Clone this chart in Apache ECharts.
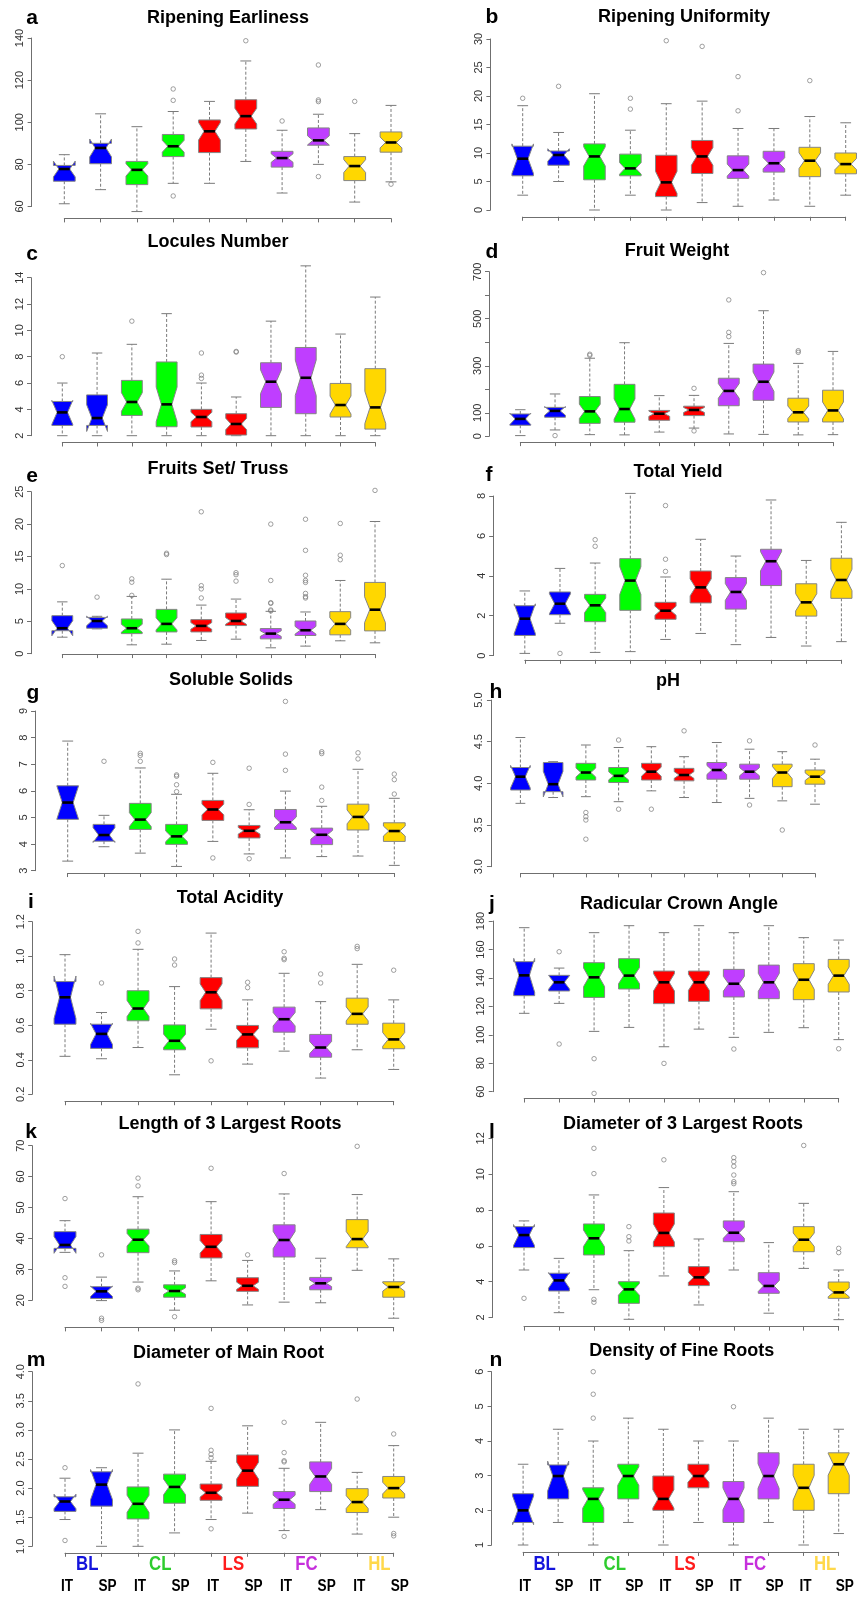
<!DOCTYPE html>
<html>
<head>
<meta charset="utf-8">
<script src="https://cdn.jsdelivr.net/npm/echarts@6/dist/echarts.min.js"></script>
<style>
  html, body { margin: 0; padding: 0; background: #ffffff; }
  #chart { width: 857px; height: 1599px; }
</style>
</head>
<body>
<div id="chart"></div>
<script>
// ---- categories -------------------------------------------------------
const groupNames = ['BL', 'CL', 'LS', 'FC', 'HL'];
const originNames = ['IT', 'SP'];
// accessions per box, used for the median notch (1.58 * IQR / sqrt(n))
const sampleSizes = [10, 13, 35, 35, 35, 35, 35, 35, 35, 35];

const panelLetters = ['a', 'b', 'c', 'd', 'e', 'f', 'g', 'h', 'i', 'j', 'k', 'l', 'm', 'n'];
const panelTitles = [
  'Ripening Earliness', 'Ripening Uniformity', 'Locules Number', 'Fruit Weight',
  'Fruits Set/ Truss', 'Total Yield', 'Soluble Solids', 'pH', 'Total Acidity',
  'Radicular Crown Angle', 'Length of 3 Largest Roots', 'Diameter of 3 Largest Roots',
  'Diameter of Main Root', 'Density of Fine Roots'
];

// ---- y tick labels ----------------------------------------------------
const tickFirst = [60, 0, 2, 0, 0, 0, 3, 3.0, 0.2, 60, 20, 2, 1.0, 1];
const tickLast = [140, 30, 14, 700, 25, 8, 9, 5.0, 1.2, 180, 70, 12, 4.0, 6];
const tickStep = [20, 5, 2, 100, 5, 2, 1, 0.5, 0.2, 20, 10, 2, 0.5, 1];
const tickDecimals = [0, 0, 0, 0, 0, 0, 0, 1, 1, 0, 0, 0, 1, 0];
const unlabelledTicks = [[], [], [], [200, 400, 600], [], [], [], [], [], [], [], [], [], []];
// panels drawn with a fixed value range instead of the data range
const fixedLimits = [null, null, null, null, null, null, null, [3, 5], [0.2, 1.2], [60, 180], null, null, null, null];

// ---- box statistics: [lower whisker, Q1, median, Q3, upper whisker] ----
const ripeningEarliness = [
  [61.3, 72.0, 77.8, 79.5, 84.6], [68.0, 80.3, 87.8, 90.0, 104.0],
  [57.6, 70.4, 77.4, 81.4, 97.9], [71.0, 83.7, 88.6, 94.2, 105.1],
  [71.0, 85.6, 95.7, 101.1, 109.9], [81.4, 96.8, 102.9, 110.7, 129.1],
  [66.4, 78.7, 83.0, 86.2, 96.2], [80.0, 89.1, 91.4, 97.3, 103.8],
  [62.1, 72.3, 79.2, 83.7, 94.6], [71.7, 85.8, 90.4, 95.4, 108.0]
];
const ripeningEarlinessOut = [[], [], [], [115.8, 110.4, 65.0], [], [138.7], [100.6], [127.2, 110.6, 109.8, 74.2], [109.9], [70.6]];

const ripeningUniformity = [
  [2.6, 6.0, 9.0, 11.2, 18.3], [5.0, 7.85, 9.65, 10.35, 13.6],
  [0.0, 5.3, 9.4, 11.6, 20.4], [2.6, 6.0, 7.3, 9.8, 14.0],
  [0.0, 2.35, 4.85, 9.6, 18.65], [1.3, 6.4, 9.4, 12.2, 19.1],
  [0.65, 5.55, 7.0, 9.5, 14.3], [1.75, 6.65, 8.2, 10.3, 14.3],
  [0.65, 5.85, 8.65, 11.0, 16.4], [2.6, 6.35, 8.05, 10.0, 15.3]
];
const ripeningUniformityOut = [[19.6], [21.7], [], [19.6, 17.7], [29.7], [28.7], [23.4, 17.4], [], [22.7], []];

const loculesNumber = [
  [2, 2.78, 3.77, 4.6, 6.0], [2, 2.78, 3.34, 5.1, 8.28],
  [2, 3.54, 4.56, 6.2, 8.94], [2, 2.68, 4.38, 7.6, 11.27],
  [2, 2.66, 3.42, 4.0, 6.0], [2, 2.05, 2.89, 3.67, 4.94],
  [2, 4.15, 6.1, 7.54, 10.7], [2, 3.67, 6.4, 8.7, 14.9],
  [2, 3.42, 4.33, 5.97, 9.72], [2, 2.5, 4.15, 7.09, 12.53]
];
const loculesNumberOut = [[8.0], [], [10.7], [], [8.28, 6.6, 6.35], [8.35, 8.4], [], [], [], []];

const fruitWeight = [
  [3, 47, 74, 95, 113], [27, 81, 108, 123, 180],
  [7, 55, 106, 169, 332], [6, 60, 116, 221, 398],
  [18, 68, 96, 110, 173], [35, 88, 112, 128, 174],
  [10, 130, 193, 247, 395], [8, 153, 232, 307, 534],
  [6, 61, 102, 162, 310], [7, 61, 110, 196, 361]
];
const fruitWeightOut = [[], [3], [349, 344], [], [], [204, 23], [580, 442, 424], [696], [364, 357], []];

const fruitsSetTruss = [
  [2.55, 3.55, 3.93, 5.87, 8.0], [3.83, 3.93, 5.05, 5.6, 5.77],
  [1.37, 3.1, 3.93, 5.36, 8.84], [1.47, 3.36, 4.6, 6.84, 11.5],
  [2.04, 3.36, 4.29, 5.26, 7.5], [2.24, 4.34, 5.05, 6.28, 8.43],
  [0.91, 2.29, 3.1, 3.88, 6.54], [1.17, 2.81, 3.62, 5.05, 6.44],
  [1.99, 2.91, 4.6, 6.49, 11.3], [1.68, 3.52, 6.79, 11.0, 20.4]
];
const fruitsSetTrussOut = [[13.6], [8.73], [11.55, 11.03, 9.0], [15.5, 15.3], [21.9, 10.5, 10.0, 8.6],
  [12.5, 12.2, 11.2], [20.0, 11.3, 7.87, 7.77, 6.75, 6.6], [20.75, 15.95, 12.1, 11.3, 11.0, 9.3, 8.8, 8.6],
  [20.1, 15.2, 14.5], [25.2]];

const totalYield = [
  [0.11, 1.01, 1.85, 2.5, 3.24], [1.62, 2.05, 2.6, 3.19, 4.37],
  [0.16, 1.7, 2.52, 3.07, 4.64], [0.2, 2.27, 3.76, 4.86, 8.13],
  [0.81, 1.82, 2.25, 2.67, 3.94], [1.11, 2.64, 3.42, 4.24, 5.83],
  [0.55, 2.33, 3.19, 3.91, 4.99], [0.91, 3.51, 4.73, 5.33, 7.8],
  [0.48, 1.98, 2.67, 3.6, 4.77], [0.7, 2.87, 3.79, 4.88, 6.68]
];
const totalYieldOut = [[], [0.11], [5.81, 5.48], [], [7.52, 4.83, 4.22], [], [], [], [], []];

const solubleSolids = [
  [3.36, 4.93, 5.56, 6.19, 7.87], [3.9, 4.11, 4.34, 4.74, 5.08],
  [3.66, 4.55, 4.92, 5.53, 6.86], [3.16, 3.99, 4.29, 4.74, 5.87],
  [4.1, 4.89, 5.3, 5.64, 6.66], [3.63, 4.23, 4.5, 4.7, 5.29],
  [3.48, 4.55, 4.82, 5.3, 5.99], [3.53, 3.98, 4.35, 4.6, 5.42],
  [3.55, 4.53, 5.02, 5.5, 6.81], [3.2, 4.1, 4.49, 4.8, 5.72]
];
const solubleSolidsOut = [[], [7.11], [7.41, 7.33, 7.11], [6.6, 6.55, 6.23, 5.97], [7.07, 3.48],
  [6.85, 5.49, 3.45], [9.36, 7.38, 6.77], [7.47, 7.4, 6.14, 5.64], [7.43, 7.2], [6.63, 6.42, 5.88]];

const pH = [
  [3.76, 3.92, 4.08, 4.19, 4.55], [3.83, 3.9, 3.99, 4.25, 4.26],
  [3.84, 4.04, 4.13, 4.24, 4.46], [3.78, 4.01, 4.09, 4.19, 4.43],
  [3.91, 4.04, 4.14, 4.24, 4.44], [3.83, 4.03, 4.1, 4.18, 4.32],
  [3.77, 4.05, 4.16, 4.25, 4.49], [3.82, 4.05, 4.14, 4.23, 4.41],
  [3.79, 3.96, 4.13, 4.23, 4.38], [3.75, 3.99, 4.08, 4.16, 4.29]
];
const pHOut = [[], [], [3.65, 3.6, 3.56, 3.33], [4.52, 3.69], [3.69], [4.63], [], [4.51, 3.74], [3.44], [4.46]];

const totalAcidity = [
  [0.42, 0.606, 0.762, 0.853, 1.009], [0.406, 0.466, 0.55, 0.606, 0.674],
  [0.471, 0.626, 0.697, 0.8, 1.04], [0.313, 0.458, 0.51, 0.602, 0.824],
  [0.577, 0.695, 0.791, 0.876, 1.134], [0.375, 0.469, 0.547, 0.599, 0.747],
  [0.45, 0.56, 0.635, 0.705, 0.901], [0.294, 0.415, 0.471, 0.547, 0.737],
  [0.458, 0.606, 0.666, 0.757, 0.953], [0.344, 0.464, 0.518, 0.612, 0.747]
];
const totalAcidityOut = [[], [0.845], [1.144, 1.077], [0.984, 0.949], [0.394], [0.849, 0.818],
  [1.026, 0.988, 0.98], [0.897, 0.845], [1.057, 1.044], [0.919]];

const crownAngle = [
  [115.1, 127.5, 141.8, 151.4, 175.3], [122.1, 130.8, 136.9, 141.8, 146.9],
  [102.4, 126.3, 140.4, 150.7, 171.8], [105.2, 132.2, 141.6, 153.5, 176.7],
  [91.6, 121.9, 136.9, 144.8, 171.8], [104.0, 123.5, 136.9, 144.8, 176.7],
  [98.2, 126.6, 135.9, 146.0, 171.8], [101.7, 125.4, 136.9, 149.0, 176.7],
  [105.0, 124.7, 138.7, 150.0, 168.3], [96.6, 130.1, 141.6, 153.0, 166.6]
];
const crownAngleOut = [[], [158.4, 93.5], [83.2, 58.8], [], [79.9], [], [90.0], [], [], [90.2]];

const rootLength = [
  [35.5, 36.8, 37.9, 42.2, 45.75], [19.9, 20.6, 22.9, 24.4, 27.5],
  [25.9, 35.4, 39.6, 43.0, 53.5], [16.8, 21.0, 23.0, 25.0, 29.5],
  [26.3, 33.7, 37.3, 41.3, 51.9], [18.5, 22.9, 24.7, 27.3, 32.9],
  [19.4, 34.0, 39.5, 44.4, 54.4], [19.2, 23.4, 25.5, 27.4, 33.6],
  [29.7, 37.0, 39.8, 46.1, 54.2], [14.2, 21.0, 24.3, 26.0, 33.4]
];
const rootLengthOut = [[52.9, 27.3, 24.5], [34.7, 14.2, 13.5], [59.5, 57.0, 23.9, 23.4], [32.8, 32.2, 14.7],
  [62.7], [34.7], [61.0], [], [69.8], []];

const rootDiameter = [
  [4.65, 5.9, 6.6, 7.07, 7.39], [2.27, 3.48, 4.07, 4.47, 5.3],
  [3.55, 5.49, 6.42, 7.22, 8.84], [1.9, 2.79, 3.57, 4.0, 5.73],
  [4.32, 5.95, 6.72, 7.83, 9.25], [2.7, 3.78, 4.24, 4.84, 6.38],
  [4.65, 6.23, 6.73, 7.39, 9.02], [2.24, 3.35, 3.76, 4.5, 6.18],
  [4.74, 5.67, 6.34, 7.07, 8.37], [1.88, 3.07, 3.4, 3.98, 4.65]
];
const rootDiameterOut = [[3.07], [], [11.44, 10.03, 3.01, 2.85], [7.07, 6.51, 6.27], [10.8], [],
  [10.92, 10.7, 10.44, 9.95, 9.58, 9.47], [], [11.6], [5.86, 5.62]];

const mainRootDiameter = [
  [1.46, 1.6, 1.77, 1.85, 2.17], [1.0, 1.69, 2.06, 2.28, 2.35],
  [1.0, 1.47, 1.73, 2.02, 2.6], [1.23, 1.74, 2.02, 2.24, 3.0],
  [1.46, 1.79, 1.92, 2.07, 2.46], [1.57, 2.03, 2.3, 2.57, 3.07],
  [1.27, 1.65, 1.8, 1.94, 2.34], [1.63, 1.94, 2.2, 2.45, 3.13],
  [1.21, 1.58, 1.76, 1.99, 2.27], [1.5, 1.83, 2.0, 2.2, 2.73]
];
const mainRootDiameterOut = [[2.35, 1.1], [], [3.79], [], [3.37, 2.65, 2.58, 2.52, 1.3], [],
  [3.13, 2.61, 2.47, 2.45, 1.17], [], [3.53], [2.93, 1.22, 1.18]];

const fineRootDensity = [
  [1.0, 1.65, 2.0, 2.48, 3.33], [1.65, 2.33, 2.99, 3.31, 4.34],
  [1.0, 1.65, 2.33, 2.65, 4.0], [1.65, 2.33, 2.99, 3.33, 4.66],
  [1.0, 2.0, 2.33, 2.99, 4.34], [1.65, 2.65, 2.99, 3.33, 4.0],
  [1.0, 1.65, 2.33, 2.83, 4.0], [1.65, 2.33, 2.99, 3.66, 4.66],
  [1.0, 2.0, 2.65, 3.33, 4.34], [1.33, 2.48, 3.33, 3.66, 4.34]
];
const fineRootDensityOut = [[], [], [6.0, 5.35, 4.66], [], [], [], [4.99], [], [], []];

const panelStats = [ripeningEarliness, ripeningUniformity, loculesNumber, fruitWeight, fruitsSetTruss,
  totalYield, solubleSolids, pH, totalAcidity, crownAngle, rootLength, rootDiameter, mainRootDiameter, fineRootDensity];
const panelOutliers = [ripeningEarlinessOut, ripeningUniformityOut, loculesNumberOut, fruitWeightOut, fruitsSetTrussOut,
  totalYieldOut, solubleSolidsOut, pHOut, totalAcidityOut, crownAngleOut, rootLengthOut, rootDiameterOut,
  mainRootDiameterOut, fineRootDensityOut];

// ---- layout (pixels): first box centre x, last box centre x, top tick y, bottom tick y ----
const frames = [
  [64.3, 391.0, 38.0, 206.5], [522.7, 845.7, 39.0, 210.0],
  [62.3, 375.3, 277.7, 435.7], [520.3, 833.0, 271.7, 436.3],
  [62.3, 375.0, 491.7, 653.7], [524.8, 841.4, 496.0, 655.6],
  [67.7, 394.3, 711.0, 870.7], [520.4, 815.0, 700.0, 866.7],
  [65.0, 393.7, 921.7, 1094.3], [524.2, 838.7, 921.0, 1091.7],
  [65.0, 393.7, 1145.7, 1300.3], [524.0, 838.7, 1138.3, 1317.5],
  [65.0, 393.7, 1371.7, 1546.3], [523.1, 838.7, 1371.7, 1545.0]
];
const titleXY = [[228, 18], [684, 17], [218, 242], [677, 251], [218, 469], [678, 472], [231, 680], [668, 681],
  [230, 898], [679, 904], [230, 1124], [683, 1124], [228.5, 1353], [681.7, 1351]];
const letterXY = [[32, 18], [492, 17], [32, 254], [492, 252], [32, 476], [489, 475], [33, 693], [496, 692],
  [31, 902], [492, 904], [31, 1132], [492, 1132], [36, 1360], [496, 1360]];

const boxFill = ['#0000ff', '#00ff00', '#ff0000', '#bf3eff', '#ffd700'];
const groupLabelColor = ['#1414dc', '#2ecc2e', '#ff1c1c', '#c62fdc', '#ffd84a'];
const AXIS_GREY = '#6f6f6f';
const BOX_HALF = 0.3;          // half box width in category units
const FONT = '"Liberation Sans", Arial, sans-serif';

function renderBox(params, api) {
  const x = api.value(0);
  const low = api.value(1), q1 = api.value(2), med = api.value(3), q3 = api.value(4), high = api.value(5);
  const nlo = api.value(6), nhi = api.value(7);
  const fill = boxFill[Math.floor((x - 1) / 2)];
  const w = api.size([BOX_HALF, 0])[0];
  const cx = api.coord([x, med])[0];
  const y = v => api.coord([x, v])[1];
  const grey = { stroke: '#7a7a7a', lineWidth: 1 };
  const dashed = { stroke: '#7a7a7a', lineWidth: 1, lineDash: [3, 2] };
  return {
    type: 'group',
    children: [
      { type: 'line', shape: { x1: cx, y1: y(q1), x2: cx, y2: y(low) }, style: dashed },
      { type: 'line', shape: { x1: cx, y1: y(q3), x2: cx, y2: y(high) }, style: dashed },
      { type: 'line', shape: { x1: cx - w / 2, y1: y(low), x2: cx + w / 2, y2: y(low) }, style: grey },
      { type: 'line', shape: { x1: cx - w / 2, y1: y(high), x2: cx + w / 2, y2: y(high) }, style: grey },
      {
        type: 'polygon',
        shape: {
          points: [
            [cx - w, y(q1)], [cx - w, y(nlo)], [cx - w / 2, y(med)], [cx - w, y(nhi)], [cx - w, y(q3)],
            [cx + w, y(q3)], [cx + w, y(nhi)], [cx + w / 2, y(med)], [cx + w, y(nlo)], [cx + w, y(q1)]
          ]
        },
        style: { fill: fill, stroke: '#858585', lineWidth: 1 }
      },
      { type: 'line', shape: { x1: cx - w / 2, y1: y(med), x2: cx + w / 2, y2: y(med) }, style: { stroke: '#000', lineWidth: 2.6 } }
    ]
  };
}

const grids = [], xAxes = [], yAxes = [], series = [], elements = [];

panelStats.forEach((stats, k) => {
  const [x1, x10, yTop, yBot] = frames[k];
  const spacing = (x10 - x1) / 9;
  const outs = panelOutliers[k];
  grids.push({ left: x1, top: yTop, width: x10 - x1, height: yBot - yTop });

  // bottom axis sits at the lower edge of the plot region (value range padded by 4 %)
  const allValues = stats.flat().concat(outs.flat());
  const lim = fixedLimits[k] || [Math.min(...allValues), Math.max(...allValues)];
  const lowerEdge = lim[0] - 0.04 * (lim[1] - lim[0]);
  const pxPerUnit = (yBot - yTop) / (tickLast[k] - tickFirst[k]);
  const xOffset = Math.max(0, (tickFirst[k] - lowerEdge) * pxPerUnit);

  xAxes.push({
    gridIndex: k, type: 'value', min: 1, max: 10, interval: 1, position: 'bottom', offset: xOffset,
    axisLine: { show: true, onZero: false, lineStyle: { color: AXIS_GREY, width: 1 } },
    axisTick: { show: true, length: 4, lineStyle: { color: AXIS_GREY } },
    axisLabel: { show: false }, splitLine: { show: false }
  });
  const hidden = unlabelledTicks[k];
  const dec = tickDecimals[k];
  yAxes.push({
    gridIndex: k, type: 'value', min: tickFirst[k], max: tickLast[k], interval: tickStep[k],
    position: 'left', offset: 0.9 * spacing,
    axisLine: { show: true, onZero: false, lineStyle: { color: AXIS_GREY, width: 1 } },
    axisTick: { show: true, length: 4, lineStyle: { color: AXIS_GREY } },
    axisLabel: {
      rotate: 90, margin: 6, fontSize: 11, color: '#333', fontFamily: FONT,
      formatter: v => hidden.some(h => Math.abs(h - v) < 1e-6) ? '' : Number(v).toFixed(dec)
    },
    splitLine: { show: false }
  });

  const boxData = stats.map((s, i) => {
    const half = 1.58 * (s[3] - s[1]) / Math.sqrt(sampleSizes[i]);
    return [i + 1, s[0], s[1], s[2], s[3], s[4], s[2] - half, s[2] + half];
  });
  series.push({
    type: 'custom', xAxisIndex: k, yAxisIndex: k, clip: false, silent: true,
    encode: { x: 0, y: [1, 5] },
    renderItem: renderBox, data: boxData
  });
  const outData = [];
  outs.forEach((list, i) => list.forEach(v => outData.push([i + 1, v])));
  series.push({
    type: 'scatter', xAxisIndex: k, yAxisIndex: k, clip: false, silent: true,
    symbol: 'circle', symbolSize: 4.5,
    itemStyle: { color: 'rgba(0,0,0,0)', borderColor: '#7a7a7a', borderWidth: 0.9 },
    data: outData, z: 3
  });

  elements.push({
    type: 'text', x: titleXY[k][0], y: titleXY[k][1], silent: true,
    style: { text: panelTitles[k], fill: '#000', font: 'bold 18px ' + FONT,
      textAlign: 'center', textVerticalAlign: 'middle', align: 'center', verticalAlign: 'middle' }
  });
  elements.push({
    type: 'text', x: letterXY[k][0], y: letterXY[k][1], silent: true,
    style: { text: panelLetters[k], fill: '#000', font: 'bold 21px ' + FONT,
      textAlign: 'center', textVerticalAlign: 'middle', align: 'center', verticalAlign: 'middle' }
  });
});

// group and origin labels under the bottom row
[12, 13].forEach(k => {
  const [x1, x10] = frames[k];
  const spacing = (x10 - x1) / 9;
  groupNames.forEach((g, gi) => {
    const xa = x1 + 2 * gi * spacing, xb = xa + spacing;
    elements.push({
      type: 'text', x: (xa + xb) / 2 + 4, y: 1564, scaleX: 0.8, silent: true,
      style: { text: g, fill: groupLabelColor[gi], font: 'bold 21px ' + FONT,
        textAlign: 'center', textVerticalAlign: 'middle', align: 'center', verticalAlign: 'middle' }
    });
    originNames.forEach((o, oi) => {
      elements.push({
        type: 'text', x: (oi === 0 ? xa + 2 : xb + 6), y: 1587, scaleX: 0.85, silent: true,
        style: { text: o, fill: '#000', font: 'bold 16px ' + FONT,
          textAlign: 'center', textVerticalAlign: 'middle', align: 'center', verticalAlign: 'middle' }
      });
    });
  });
});

const chart = echarts.init(document.getElementById('chart'), null, { renderer: 'canvas' });
chart.setOption({
  animation: false,
  backgroundColor: '#ffffff',
  grid: grids,
  xAxis: xAxes,
  yAxis: yAxes,
  series: series,
  graphic: { elements: elements }
});
</script>
</body>
</html>
